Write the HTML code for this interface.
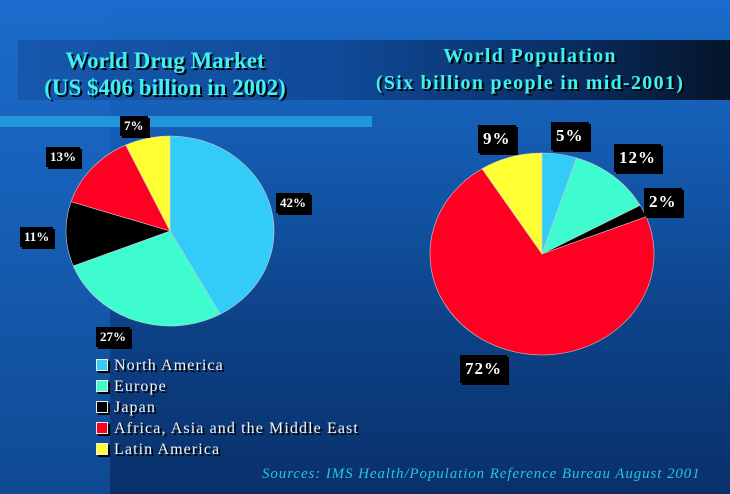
<!DOCTYPE html>
<html><head><meta charset="utf-8"><style>
html,body{margin:0;padding:0}
body{width:730px;height:494px;overflow:hidden;position:relative;background:linear-gradient(180deg,#1a6ccc 0%,#145bb0 30%,#0d4288 65%,#09306a 100%);font-family:"Liberation Serif",serif}
.strip{position:absolute;left:0;top:0;width:110px;height:494px;background:linear-gradient(180deg,#1a6ccc 0%,#1660b8 40%,#0f4a92 100%)}
.band{position:absolute;left:18px;top:40px;width:712px;height:60px;background:linear-gradient(90deg,#1658ae 0%,#104a98 45%,#0a2f66 75%,#041428 100%)}
.t{position:absolute;color:#40f0f0;font-weight:bold;text-align:center;text-shadow:2px 2px 0 #000;font-size:23px;line-height:27px;white-space:nowrap}
.bar{position:absolute;left:0;top:116px;width:372px;height:11px;background:#2196db}
.lab{position:absolute;background:#000;color:#fff;font-weight:bold;font-size:13px;line-height:20px;padding:0 4px;box-shadow:2px 2px 0 #000}
.big{font-size:17px;line-height:28px;padding:0 5px;letter-spacing:1px}
.leg{position:absolute;left:96px;color:#f4f4f4;font-size:16px;line-height:21px;text-shadow:2px 2px 0 #000;letter-spacing:1.1px;white-space:nowrap}
.leg div{height:21px}
.leg span{display:inline-block;width:10px;height:10px;border:1px solid #eee;box-shadow:2px 2px 0 #000;margin-right:6px;vertical-align:-1px}
.src{position:absolute;left:262px;top:466px;color:#25c6d6;font-style:italic;font-size:15px;letter-spacing:0.9px;white-space:nowrap}
</style></head><body>
<div class="strip"></div>
<div class="band"></div>
<div class="t" style="left:20px;top:47px;width:290px">World Drug Market<br>(US $406 billion in 2002)</div>
<div class="t" style="left:360px;top:43px;width:340px;font-size:20px;letter-spacing:1.3px">World Population<br>(Six billion people in mid-2001)</div>
<div class="bar"></div>
<svg width="730" height="494" style="position:absolute;left:0;top:0">
<g transform="translate(170,231) scale(104,95)" stroke="#ccc" stroke-width="0.6">
<path d="M0,0L0,-1A1,1 0 0 1 .4818,.8763Z" fill="#33ccf8" vector-effect="non-scaling-stroke"/>
<path d="M0,0L.4818,.8763A1,1 0 0 1 -.9298,.3681Z" fill="#3ffcd0" vector-effect="non-scaling-stroke"/>
<path d="M0,0L-.9298,.3681A1,1 0 0 1 -.9511,-.309Z" fill="#000" vector-effect="non-scaling-stroke"/>
<path d="M0,0L-.9511,-.309A1,1 0 0 1 -.4258,-.9048Z" fill="#ff0022" vector-effect="non-scaling-stroke"/>
<path d="M0,0L-.4258,-.9048A1,1 0 0 1 0,-1Z" fill="#ffff33" vector-effect="non-scaling-stroke"/>
</g>
<g transform="translate(542,254) scale(112,101)" stroke="#ccc" stroke-width="0.6">
<path d="M0,0L0,-1A1,1 0 0 1 .309,-.9511Z" fill="#33ccf8" vector-effect="non-scaling-stroke"/>
<path d="M0,0L.309,-.9511A1,1 0 0 1 .8763,-.4818Z" fill="#3ffcd0" vector-effect="non-scaling-stroke"/>
<path d="M0,0L.8763,-.4818A1,1 0 0 1 .9298,-.3681Z" fill="#000" vector-effect="non-scaling-stroke"/>
<path d="M0,0L.9298,-.3681A1,1 0 1 1 -.5358,-.8443Z" fill="#ff0022" vector-effect="non-scaling-stroke"/>
<path d="M0,0L-.5358,-.8443A1,1 0 0 1 0,-1Z" fill="#ffff33" vector-effect="non-scaling-stroke"/>
</g>
</svg>
<div class="lab" style="left:120px;top:116px">7%</div>
<div class="lab" style="left:46px;top:147px">13%</div>
<div class="lab" style="left:20px;top:227px">11%</div>
<div class="lab" style="left:96px;top:327px">27%</div>
<div class="lab" style="left:276px;top:193px">42%</div>
<div class="lab big" style="left:478px;top:125px">9%</div>
<div class="lab big" style="left:551px;top:122px">5%</div>
<div class="lab big" style="left:614px;top:144px">12%</div>
<div class="lab big" style="left:644px;top:188px">2%</div>
<div class="lab big" style="left:460px;top:355px">72%</div>
<div class="leg" style="top:355px">
<div><span style="background:#33ccf8"></span>North America</div>
<div><span style="background:#3ffcd0"></span>Europe</div>
<div><span style="background:#000"></span>Japan</div>
<div><span style="background:#ff0022"></span>Africa, Asia and the Middle East</div>
<div><span style="background:#ffff33"></span>Latin America</div>
</div>
<div class="src">Sources: IMS Health/Population Reference Bureau August 2001</div>
</body></html>
